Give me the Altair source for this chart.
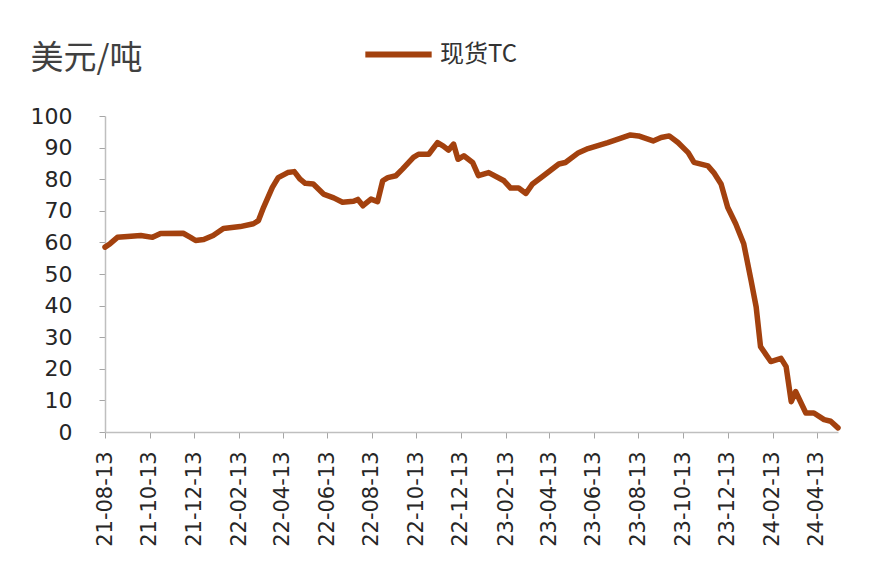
import altair as alt
import pandas as pd

dates = [
    "2021-08-13", "2021-08-20", "2021-08-30", "2021-09-13", "2021-10-01", "2021-10-17",
    "2021-10-28", "2021-11-28", "2021-12-08", "2021-12-15", "2021-12-26", "2022-01-08",
    "2022-01-22", "2022-02-14", "2022-03-04", "2022-03-11", "2022-03-18", "2022-03-30",
    "2022-04-07", "2022-04-20", "2022-04-29", "2022-05-07", "2022-05-14", "2022-05-25",
    "2022-06-08", "2022-06-22", "2022-07-04", "2022-07-19", "2022-07-25", "2022-08-01",
    "2022-08-12", "2022-08-21", "2022-08-28", "2022-09-04", "2022-09-15", "2022-09-24",
    "2022-10-09", "2022-10-16", "2022-10-30", "2022-11-11", "2022-11-19", "2022-11-26",
    "2022-12-03", "2022-12-09", "2022-12-17", "2022-12-29", "2023-01-06", "2023-01-20",
    "2023-02-10", "2023-02-19", "2023-03-02", "2023-03-12", "2023-03-21", "2023-04-05",
    "2023-04-26", "2023-05-05", "2023-05-23", "2023-06-05", "2023-07-02", "2023-07-20",
    "2023-08-02", "2023-08-13", "2023-09-02", "2023-09-13", "2023-09-24", "2023-10-06",
    "2023-10-20", "2023-10-28", "2023-11-16", "2023-11-24", "2023-12-04", "2023-12-13",
    "2023-12-24", "2024-01-04", "2024-01-14", "2024-01-21", "2024-01-27", "2024-02-10",
    "2024-02-24", "2024-03-02", "2024-03-09", "2024-03-15", "2024-03-29", "2024-04-09",
    "2024-04-23", "2024-05-02", "2024-05-12",
]
values = [
    58.5, 59.6, 61.6, 61.9, 62.2, 61.6,
    62.8, 62.9, 61.6, 60.6, 60.9, 62.2,
    64.4, 65.0, 65.9, 66.9, 71.1, 77.4,
    80.5, 82.1, 82.4, 80.0, 78.7, 78.5,
    75.3, 74.1, 72.7, 73.0, 73.6, 71.6,
    73.7, 72.9, 79.5, 80.5, 81.1, 83.2,
    86.9, 87.9, 87.9, 91.6, 90.5, 89.2,
    91.1, 86.3, 87.4, 85.3, 81.1, 82.1,
    79.5, 77.2, 77.2, 75.5, 78.5, 81.1,
    84.8, 85.3, 88.4, 89.7, 91.6, 93.0,
    94.0, 93.7, 92.1, 93.2, 93.7, 91.6,
    88.4, 85.3, 84.2, 82.1, 78.5, 71.1,
    65.9, 59.6, 48.0, 39.6, 27.0, 22.3,
    23.3, 20.7, 9.6, 12.8, 6.0, 6.0,
    3.9, 3.4, 1.3,
]
series_name = "现货TC"
y_title = "美元/吨"
x_tick_dates = [
    "2021-08-13", "2021-10-13", "2021-12-13", "2022-02-13", "2022-04-13", "2022-06-13",
    "2022-08-13", "2022-10-13", "2022-12-13", "2023-02-13", "2023-04-13", "2023-06-13",
    "2023-08-13", "2023-10-13", "2023-12-13", "2024-02-13", "2024-04-13",
]
y_ticks = [0, 10, 20, 30, 40, 50, 60, 70, 80, 90, 100]


def to_dt(s):
    y, m, d = (int(p) for p in s.split("-"))
    return alt.DateTime(year=y, month=m, date=d, utc=True)


df = pd.DataFrame({"date": dates, "value": values, "series": series_name})

line = alt.Chart(df).mark_line(strokeWidth=5.5, strokeJoin="round", strokeCap="round").encode(
    x=alt.X(
        "date:T",
        scale=alt.Scale(type="utc", domain=[to_dt(dates[0]), to_dt(dates[-1])]),
        axis=alt.Axis(
            values=[to_dt(s) for s in x_tick_dates],
            labelExpr="utcFormat(datum.value, '%y-%m-%d')",
            labelAngle=-90,
            labelFont="DejaVu Sans",
            labelFontSize=21,
            labelColor="#262626",
            labelPadding=13,
            tickSize=6,
            tickColor="#A6A6A6",
            domainColor="#BFBFBF",
            domainWidth=1.5,
            grid=False,
            title=None,
            labelOverlap=False,
            labelFlush=False,
        ),
    ),
    y=alt.Y(
        "value:Q",
        scale=alt.Scale(domain=[0, 100], nice=False, zero=True),
        axis=alt.Axis(
            values=y_ticks,
            labelFont="DejaVu Sans",
            labelFontSize=22,
            labelColor="#262626",
            labelPadding=27,
            tickSize=6,
            tickColor="#A6A6A6",
            domainColor="#BFBFBF",
            domainWidth=1.5,
            grid=False,
            title=y_title,
            titleAngle=0,
            titleX=-75,
            titleY=-58,
            titleAlign="left",
            titleBaseline="middle",
            titleFont="Noto Sans CJK SC",
            titleFontSize=33,
            titleFontWeight="normal",
            titleColor="#404040",
        ),
    ),
    color=alt.Color(
        "series:N",
        scale=alt.Scale(range=["#A3410E"]),
        legend=alt.Legend(
            title=None,
            orient="none",
            legendX=257,
            legendY=-98,
            symbolType="stroke",
            symbolSize=4400,
            symbolStrokeWidth=6,
            labelFont="Noto Sans CJK SC",
            labelFontSize=24,
            labelColor="#333333",
            labelOffset=5,
            padding=0,
        ),
    ),
)

chart = line.properties(
    width=733,
    height=316,
    autosize=alt.AutoSizeParams(type="none"),
    padding={"left": 97, "top": 108, "right": 20, "bottom": 120},
).configure_view(strokeWidth=0, stroke="transparent")

chart.save("out.html", embed_options={"renderer": "svg", "actions": False})
